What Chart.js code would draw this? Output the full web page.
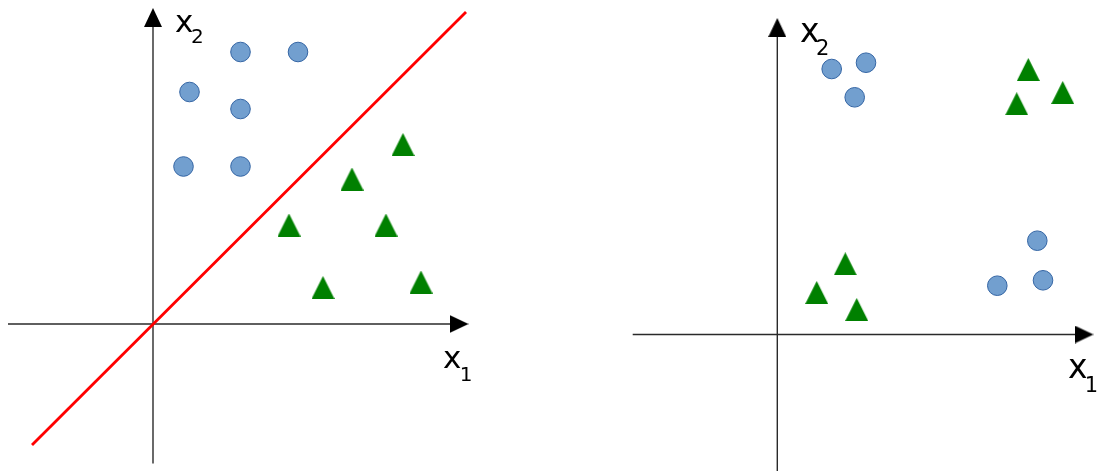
<!DOCTYPE html>
<html><head><meta charset="utf-8">
<script src="https://cdn.jsdelivr.net/npm/chart.js@4/dist/chart.umd.min.js"></script>
<style>
html,body{margin:0;padding:0;background:#fff;overflow:hidden}
#wrap{position:relative;width:1097px;height:471px;background:#fff}
canvas{position:absolute;left:0;top:0}
</style></head>
<body><div id="wrap"><canvas id="c1" width="1097" height="471"></canvas><canvas id="c2" width="1097" height="471"></canvas></div>
<script>
// ---- Left panel: linearly separable classes ----
const leftCircles   = [[8.75,27.2],[14.5,27.2],[3.65,23.2],[8.75,21.5],[3.05,15.75],[8.75,15.75]];
const leftTriangles = [[25.0,17.95],[19.9,14.5],[13.6,9.9],[23.3,9.9],[17.0,3.65],[26.8,4.2]];
const boundaryLine  = [[-12.1,-12.1],[31.3,31.2]];
const leftAxisX = [-14.5, 30.6];
const leftAxisY = [-13.95, 30.65];
// ---- Right panel: XOR-like classes ----
const rightCircles   = [[5.44,26.55],[8.87,27.18],[7.74,23.72],[26.0,9.38],[26.57,5.42],[22.0,4.88]];
const rightTriangles = [[25.1,26.5],[28.54,24.2],[23.94,23.08],[6.8,7.07],[3.94,4.2],[7.94,2.5]];
const rightAxisX = [-14.46, 30.67];
const rightAxisY = [-14.5, 30.7];
// ---- axis labels ----
const axisLabelMain = 'x';
const axisLabelSubs = ['1','2'];

const toXY = a => a.map(p => ({x:p[0], y:p[1]}));

function triCanvas(w, h, color){
  const c = document.createElement('canvas'); c.width = w; c.height = h;
  const g = c.getContext('2d');
  g.fillStyle = color; g.beginPath();
  g.moveTo(w/2, 0); g.lineTo(w, h); g.lineTo(0, h); g.closePath(); g.fill();
  return c;
}
const greenTri = triCanvas(23, 23, '#008000');
const arrowHead = triCanvas(18, 19, '#000000');

function labelPlugin(cfg){
  return {
    id: 'axlabels',
    afterDraw(chart){
      const ctx = chart.ctx, xs = chart.scales.x, ys = chart.scales.y;
      const put = (txt, font, inkLeft, base) => {
        ctx.font = font;
        const m = ctx.measureText(txt);
        ctx.fillText(txt, inkLeft + m.actualBoundingBoxLeft, base);
      };
      ctx.save();
      ctx.fillStyle = '#000'; ctx.textAlign = 'left'; ctx.textBaseline = 'alphabetic';
      const ox = xs.getPixelForValue(0), oy = ys.getPixelForValue(0);
      for (const L of cfg) {
        put(axisLabelMain, L.mainFont, ox + L.mx, oy + L.my);
        put(axisLabelSubs[L.idx], L.subFont, ox + L.sx, oy + L.sy);
      }
      ctx.restore();
    }
  };
}

function makeChart(id, circles, triangles, axX, axY, extra, range, labels){
  const axisStyle = {type:'line', borderColor:'#2a2a2a', borderWidth:1.4, pointRadius:0, fill:false, clip:false, order:5};
  const datasets = [
    Object.assign({data:[{x:axX[0],y:0},{x:axX[1],y:0}]}, axisStyle),
    Object.assign({data:[{x:0,y:axY[0]},{x:0,y:axY[1]}]}, axisStyle),
    {type:'scatter', data:[{x:axX[1],y:0}], pointStyle:arrowHead, pointRotation:90, clip:false, order:4},
    {type:'scatter', data:[{x:0,y:axY[1]}], pointStyle:arrowHead, pointRotation:0, clip:false, order:4},
  ];
  if (extra) datasets.push({type:'line', data:toXY(extra), borderColor:'#ff0000', borderWidth:2.8, pointRadius:0, fill:false, clip:false, order:3});
  datasets.push({type:'scatter', data:toXY(circles), pointStyle:'circle', pointRadius:9.8, backgroundColor:'#729fcf', borderColor:'#3465a4', borderWidth:1, clip:false, order:1});
  datasets.push({type:'scatter', data:toXY(triangles), pointStyle:greenTri, clip:false, order:1});
  return new Chart(document.getElementById(id), {
    type:'scatter',
    data:{datasets},
    options:{
      responsive:false, animation:false, events:[],
      layout:{padding:0, autoPadding:false},
      plugins:{legend:{display:false}, tooltip:{enabled:false}, title:{display:false}},
      scales:{
        x:{type:'linear', display:false, min:range[0], max:range[1]},
        y:{type:'linear', display:false, min:range[2], max:range[3]}
      }
    },
    plugins:[labelPlugin(labels)]
  });
}

makeChart('c1', leftCircles, leftTriangles, leftAxisX, leftAxisY, boundaryLine,
  [-15.3, 94.4, -14.7, 32.4],
  [{idx:0, mainFont:'31px "DejaVu Sans"', subFont:'20px "DejaVu Sans"', mx:290, my:44, sx:308.7, sy:57},
   {idx:1, mainFont:'31px "DejaVu Sans"', subFont:'20px "DejaVu Sans"', mx:22, my:-292, sx:39, sy:-281}]);
makeChart('c2', rightCircles, rightTriangles, rightAxisX, rightAxisY, null,
  [-77.73, 31.97, -13.65, 33.45],
  [{idx:0, mainFont:'33px "DejaVu Sans"', subFont:'21px "DejaVu Sans"', mx:290.7, my:43.5, sx:309.4, sy:57.5},
   {idx:1, mainFont:'33px "DejaVu Sans"', subFont:'21px "DejaVu Sans"', mx:22.7, my:-292.5, sx:39.7, sy:-279.5}]);
</script>
</body></html>
